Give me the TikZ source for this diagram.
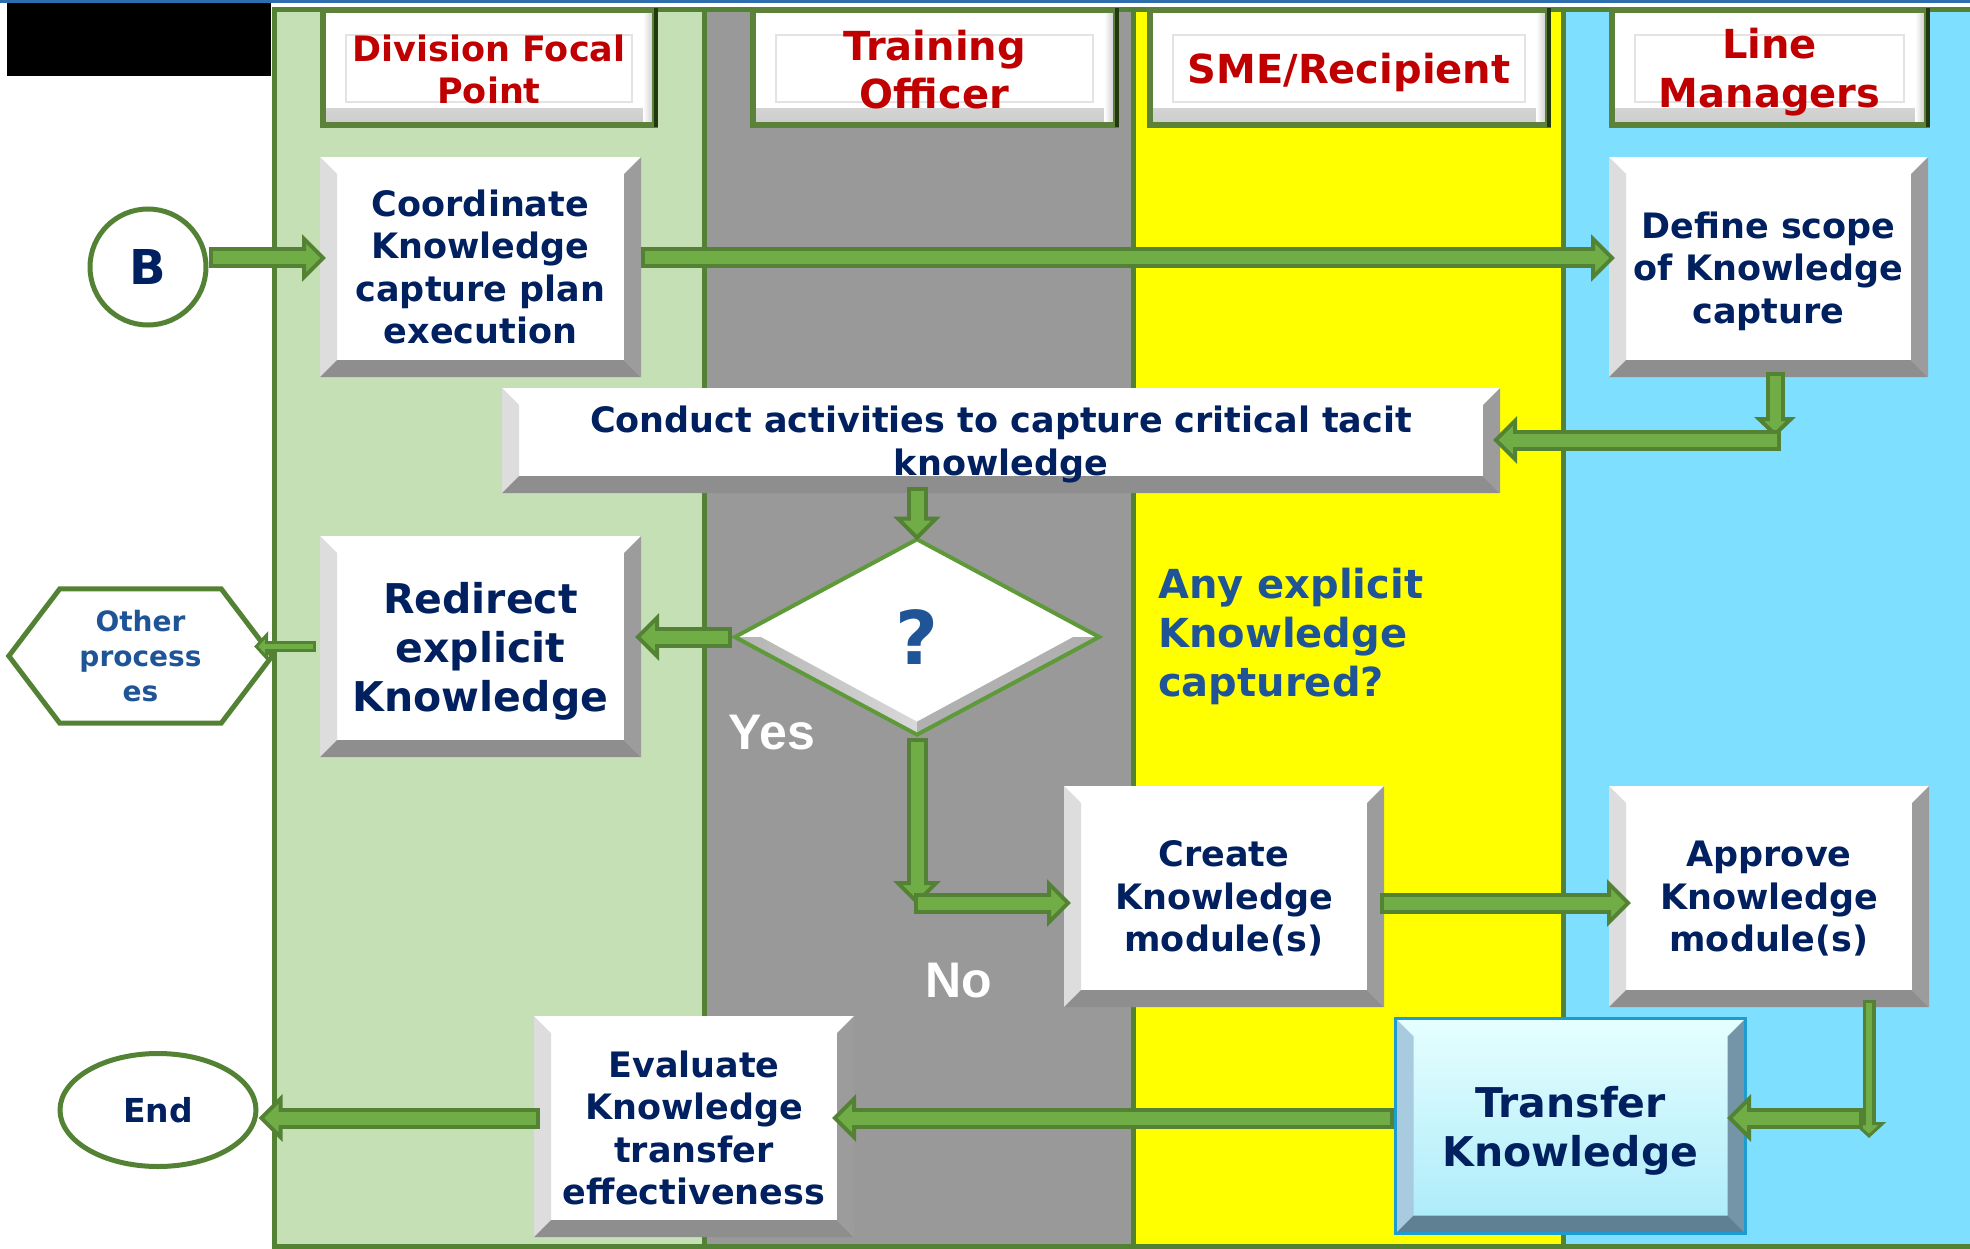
\documentclass[tikz,border=0pt]{standalone}
\usepackage{fontspec}
\setmainfont{DejaVu Sans}
\newfontfamily\arialfont{Liberation Sans}
\usetikzlibrary{arrows.meta,shapes.geometric,calc}
\definecolor{lgreen}{HTML}{C5E0B4}
\definecolor{lgray}{HTML}{999999}
\definecolor{lyellow}{HTML}{FFFF00}
\definecolor{lblue}{HTML}{7FDFFF}
\definecolor{dkgreen}{HTML}{548235}
\definecolor{argreen}{HTML}{70AD47}
\definecolor{dmgreen}{HTML}{5E9A3A}
\definecolor{navy}{HTML}{002060}
\definecolor{hred}{HTML}{C00000}
\definecolor{qblue}{HTML}{1F5597}
\definecolor{hdrgreen}{HTML}{5B8238}
\definecolor{hdrdark}{HTML}{24380F}
\definecolor{topblue}{HTML}{2E6EAE}
\definecolor{tface1}{HTML}{E6FFFF}
\definecolor{tface2}{HTML}{A9EAF9}
\definecolor{tborder}{HTML}{1E9CCF}
\definecolor{bevL}{HTML}{DDDDDD}
\definecolor{bevR}{HTML}{9C9C9C}
\definecolor{bevB}{HTML}{8E8E8E}
\definecolor{tbevL}{HTML}{A8CBDF}
\definecolor{tbevR}{HTML}{7494A8}
\definecolor{tbevB}{HTML}{5F7F93}
\newcommand\mybevel[4]{%
  \fill[#1] (path picture bounding box.north west) -- ([shift={(#4,-#4)}]path picture bounding box.north west) -- ([shift={(#4,#4)}]path picture bounding box.south west) -- (path picture bounding box.south west) -- cycle;
  \fill[#2] (path picture bounding box.north east) -- ([shift={(-#4,-#4)}]path picture bounding box.north east) -- ([shift={(-#4,#4)}]path picture bounding box.south east) -- (path picture bounding box.south east) -- cycle;
  \fill[#3] (path picture bounding box.south west) -- ([shift={(#4,#4)}]path picture bounding box.south west) -- ([shift={(-#4,#4)}]path picture bounding box.south east) -- (path picture bounding box.south east) -- cycle;
}
\newcommand\toppad{\rule{0pt}{1.0em}}
\newcommand\smallpad{\rule{0pt}{0.85em}}
\begin{document}
\begin{tikzpicture}[x=1pt,y=-1pt,
  bevelbox/.style={rectangle, fill=white, inner sep=0pt, outer sep=0pt, align=center, text=navy,
    font=\fontsize{35}{42.5}\selectfont\bfseries,
    path picture={\mybevel{bevL}{bevR}{bevB}{17pt}}},
  hdr/.style={rectangle, fill=white, draw=hdrgreen, line width=6pt, inner sep=0pt, align=center, text=hred,
    minimum height=115pt,
    path picture={
      \shade[top color=white, bottom color=gray!40] ([yshift=16pt]path picture bounding box.south west) rectangle (path picture bounding box.south east);
      \shade[left color=white, right color=gray!45] ([xshift=-12pt]path picture bounding box.north east) rectangle (path picture bounding box.south east);
      \draw[gray!22, line width=1.5pt] ([shift={(23pt,-25pt)}]path picture bounding box.north west) rectangle ([shift={(-23pt,23pt)}]path picture bounding box.south east);}},
  barrow/.style={draw=dkgreen, line width=21pt,
    -{Triangle[width=47pt,length=24pt,line width=4pt,fill=argreen]},
    postaction={draw=argreen, line width=13pt, arrows=-, shorten >=14pt, shorten <=4pt}},
  marrow/.style={draw=dkgreen, line width=19pt,
    -{Triangle[width=41pt,length=20pt,line width=4pt,fill=argreen]},
    postaction={draw=argreen, line width=11pt, arrows=-, shorten >=12pt, shorten <=4pt}},
  tarrow/.style={draw=dkgreen, line width=13pt,
    -{Triangle[width=34pt,length=16pt,line width=3pt,fill=argreen]},
    postaction={draw=argreen, line width=6pt, arrows=-, shorten >=10pt, shorten <=3pt}},
  sarrow/.style={draw=dkgreen, line width=11pt,
    -{Triangle[width=30pt,length=14pt,line width=3pt,fill=argreen]},
    postaction={draw=argreen, line width=5pt, arrows=-, shorten >=9pt, shorten <=3pt}},
  termin/.style={draw=dkgreen, line width=5pt, fill=white, inner sep=0pt, text=navy},
]
\useasboundingbox (0,0) rectangle (1970,1249);
% top strip
\fill[topblue] (0,0) rectangle (1970,3);
\fill[black] (7,3) rectangle (271,76);
% lanes
\fill[lgreen] (274,10) rectangle (704,1246);
\fill[lgray] (704,10) rectangle (1133,1246);
\fill[lyellow] (1133,10) rectangle (1563,1246);
\fill[lblue] (1563,10) rectangle (1975,1246);
\draw[dkgreen, line width=5pt] (274,10) rectangle (1975,1246);
\foreach \x in {704,1133,1563} \draw[dkgreen, line width=5pt] (\x,10) -- (\x,1246);
% headers
\node[hdr, minimum width=332pt, font=\fontsize{35}{42}\selectfont\bfseries] (h1) at (489,67.5) {\smallpad Division Focal\\Point};
\node[hdr, minimum width=363pt, font=\fontsize{40}{48}\selectfont\bfseries] (h2) at (934.5,67.5) {\smallpad Training\\Officer};
\node[hdr, minimum width=398pt, font=\fontsize{40}{48}\selectfont\bfseries] (h3) at (1349,67.5) {\toppad SME/Recipient};
\node[hdr, minimum width=315pt, font=\fontsize{40}{49}\selectfont\bfseries] (h4) at (1769.5,67.5) {\toppad Line\\Managers};
\foreach \n in {h1,h2,h3,h4}
  \draw[hdrdark, line width=4pt] ([xshift=-2pt,yshift=-1pt]\n.north east) -- ([xshift=-2pt,yshift=1pt]\n.south east);
% process boxes
\node[bevelbox, minimum width=321pt, minimum height=220pt] (coord) at (480.5,267) {Coordinate\\Knowledge\\capture plan\\execution};
\node[bevelbox, minimum width=319pt, minimum height=220pt] (define) at (1768.5,267) {\toppad Define scope\\of Knowledge\\capture};
\node[bevelbox, minimum width=998pt, minimum height=105pt] (conduct) at (1001,440.5) {\toppad Conduct activities to capture critical tacit\\knowledge};
\node[bevelbox, minimum width=321pt, minimum height=221pt, font=\fontsize{41}{49}\selectfont\bfseries] (redirect) at (480.5,646.5) {\toppad Redirect\\explicit\\Knowledge};
\node[bevelbox, minimum width=320pt, minimum height=221pt] (create) at (1224,896.5) {\smallpad Create\\Knowledge\\module(s)};
\node[bevelbox, minimum width=320pt, minimum height=221pt] (approve) at (1769,896.5) {\smallpad Approve\\Knowledge\\module(s)};
\node[bevelbox, minimum width=320pt, minimum height=221pt] (evaluate) at (694,1126.5) {\smallpad Evaluate\\Knowledge\\transfer\\effectiveness};
\node[rectangle, top color=tface1, bottom color=tface2, draw=tborder, line width=3pt, inner sep=0pt,
  minimum width=350pt, minimum height=215pt, align=center, text=navy, font=\fontsize{41}{49}\selectfont\bfseries,
  path picture={\mybevel{tbevL}{tbevR}{tbevB}{18pt}}] (transfer) at (1570.5,1126) {\toppad Transfer\\Knowledge};
% decision
\node[diamond, aspect=1.86, minimum width=366pt, minimum height=197pt, inner sep=0pt, fill=white,
  draw=dmgreen, line width=4pt, text=qblue, font=\fontsize{74}{74}\selectfont\bfseries,
  path picture={
    \shade[left color=gray!60, right color=white] (path picture bounding box.west) -- (path picture bounding box.south) -- ([yshift=13pt]path picture bounding box.south) -- ([xshift=26pt]path picture bounding box.west) -- cycle;
    \fill[gray!62] (path picture bounding box.south) -- (path picture bounding box.east) -- ([xshift=-26pt]path picture bounding box.east) -- ([yshift=13pt]path picture bounding box.south) -- cycle;
  }] (q) at (917,637) {\raisebox{-4pt}{?}};
% terminators
\node[termin, circle, minimum size=116pt, font=\fontsize{48}{48}\selectfont\bfseries] (B) at (148,267) {B};
\node[termin, ellipse, minimum width=196pt, minimum height=113pt, font=\fontsize{33}{33}\selectfont\bfseries] (End) at (158,1110) {End};
\node[rectangle, inner sep=0pt, minimum width=263pt, minimum height=134pt, align=center, text=qblue,
  font=\fontsize{28}{35}\selectfont\bfseries] (other) at (140.5,656) {Other\\process\\es};
\draw[dkgreen, line width=5pt, line join=miter] (other.west) -- ([xshift=51pt]other.north west) -- ([xshift=-51pt]other.north east) -- (other.east) -- ([xshift=-51pt]other.south east) -- ([xshift=51pt]other.south west) -- cycle;
% labels
\node[anchor=north west, align=left, inner sep=0pt, text=qblue, font=\fontsize{40}{49}\selectfont\bfseries] (anyq) at (1158,568) {Any explicit\\Knowledge\\captured?};
\node[text=white, inner sep=0pt, font=\arialfont\fontsize{50}{50}\selectfont\bfseries] (yes) at (772,733) {Yes};
\node[text=white, inner sep=0pt, font=\arialfont\fontsize{50}{50}\selectfont\bfseries] (no) at (959,981) {No};
% connector helper points
\coordinate (dc) at (1775,440);
\coordinate (nc) at (917,903);
\coordinate (ac) at (1869,1118);
% connectors
\draw[barrow] ([yshift=9pt]B.east) -- ([xshift=6pt,yshift=9pt]coord.west);
\draw[barrow] ([yshift=9pt]coord.east) -- ([xshift=6pt,yshift=9pt]define.west);
\draw[marrow] ($(define.south -| dc)+(0,5pt)$) -- ($(dc)+(0,3pt)$);
\draw[barrow] ($(dc)+(6pt,0)$) -- ($(dc -| conduct.east)+(-7pt,0)$);
\draw[barrow] ($(conduct.south -| q.north)+(0,6pt)$) -- ($(q.north)+(0,-4pt)$);
\draw[barrow] (q.west) -- ($(q.west -| redirect.east)+(-6pt,0)$);
\draw[sarrow] ($(redirect.west)+(-4pt,0)$) -- ($(redirect.west -| other.east)+(-18pt,0)$);
\draw[barrow] (q.south) -- ($(nc)+(0,-2pt)$);
\draw[barrow] ($(nc)+(-3pt,0)$) -- ($(nc -| create.west)+(7pt,0)$);
\draw[barrow] ($(create.east)+(-4pt,-6.5pt)$) -- ($(create.east -| approve.west)+(22pt,-6.5pt)$);
\draw[tarrow] ($(approve.south -| ac)+(0,7pt)$) -- ($(ac)+(0,-20pt)$);
\draw[barrow] ($(ac)+(-6pt,0)$) -- ($(ac -| transfer.east)+(-20pt,0)$);
\draw[barrow] ($(transfer.west)+(0,8pt)$) -- ($(transfer.west -| evaluate.east)+(-22pt,8pt)$);
\draw[barrow] ($(evaluate.west)+(6pt,8.5pt)$) -- ($(evaluate.west -| End.east)+(0,8.5pt)$);
\end{tikzpicture}
\end{document}
